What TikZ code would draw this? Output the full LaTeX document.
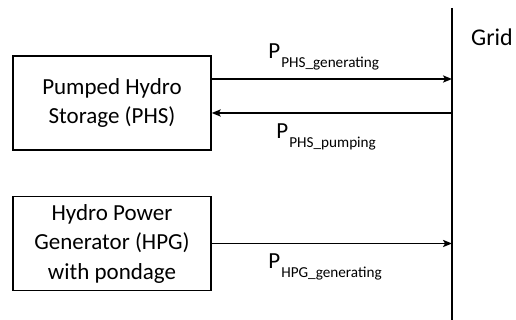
\documentclass[tikz,border=0pt]{standalone}
\usepackage{fontspec}
\setmainfont{Carlito}
\usetikzlibrary{arrows.meta}

% Puissance avec indice
\newcommand{\pflow}[1]{P\hspace{0.5pt}\raisebox{-4.5pt}{\fontsize{7.6}{9}\selectfont #1}}

\begin{document}
\begin{tikzpicture}[x=0.5pt,y=-0.5pt,
  boite/.style={draw,line width=0.75pt,minimum width=99pt,minimum height=47pt,
    align=center,inner sep=0pt,font=\fontsize{11.5}{14.75}\selectfont},
  fleche/.style={line width=0.75pt,-{Stealth[length=4.5pt,width=3.6pt,inset=1pt]}},
  etiq/.style={anchor=base west,inner sep=0pt,font=\fontsize{11.5}{14}\selectfont}]

\useasboundingbox (0,0) rectangle (516,320);

% Ligne du reseau
\coordinate (Gh) at (452,8);
\coordinate (Gb) at (452,320);
\draw[line width=0.75pt] (Gh)--(Gb);
\node[anchor=base,inner sep=0pt,font=\fontsize{12}{14}\selectfont] (grid) at (492,46) {Grid};

% Centrales
\node[boite] (phs) at (112,103) {Pumped Hydro\\Storage (PHS)};
\node[boite] (hpg) at (112,243.5) {Hydro Power\\Generator (HPG)\\with pondage};

% Points sur le reseau
\coordinate (R1) at (452,79);
\coordinate (R2) at (452,113);
\coordinate (R3) at (452,243.5);

% Fleches
\draw[fleche] (phs.east |- R1) -- (R1);
\draw[fleche] (R2) -- (phs.east |- R2);
\draw[fleche] (hpg.east) -- (R3);

% Etiquettes
\node[etiq] (p1) at (268,59) {\pflow{PHS\_generating}};
\node[etiq] (p2) at (276,139) {\pflow{PHS\_pumping}};
\node[etiq] (p3) at (268,269) {\pflow{HPG\_generating}};

\end{tikzpicture}
\end{document}
